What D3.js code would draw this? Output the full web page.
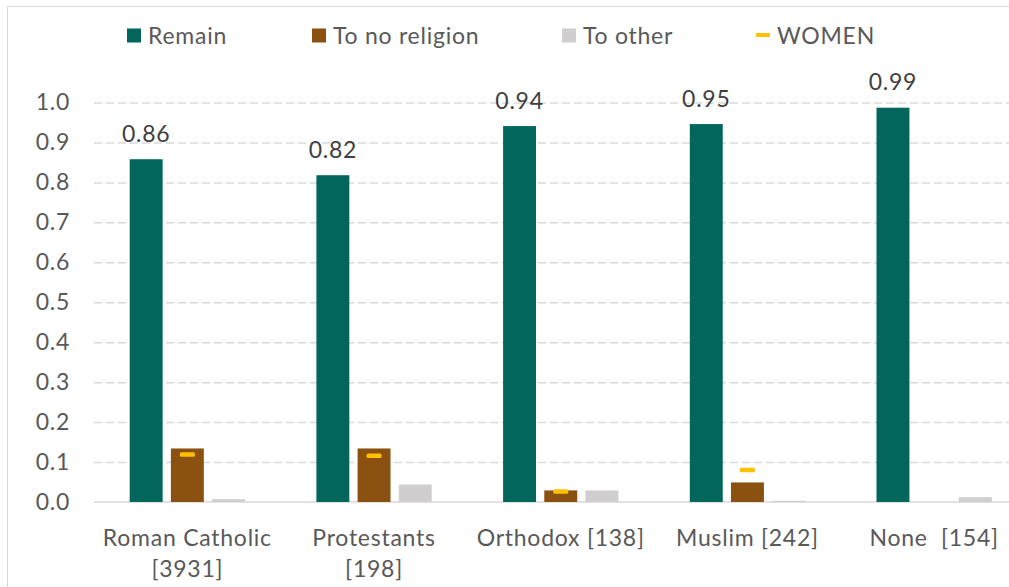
<!DOCTYPE html>
<html><head><meta charset="utf-8">
<script src="https://cdn.jsdelivr.net/npm/d3@7"></script>
<style>
html,body{margin:0;padding:0;background:#fff;}
svg{display:block;font-family:Lato, "Open Sans", sans-serif;}
</style></head>
<body>
<svg id="chart" width="1009" height="587"></svg>
<script>
// ---- data ----
const categories = ["Roman Catholic [3931]", "Protestants [198]", "Orthodox [138]", "Muslim [242]", "None  [154]"];
const categoryLines = [["Roman Catholic", "[3931]"], ["Protestants", "[198]"], ["Orthodox [138]"], ["Muslim [242]"], ["None  [154]"]];
const seriesNames = ["Remain", "To no religion", "To other"];
const remain = [0.858, 0.818, 0.941, 0.946, 0.987];
const toNoReligion = [0.134, 0.134, 0.029, 0.049, 0];
const toOther = [0.007, 0.044, 0.029, 0.003, 0.012];
const women = [0.119, 0.116, 0.026, 0.080, null];
const yTicks = [0, 0.1, 0.2, 0.3, 0.4, 0.5, 0.6, 0.7, 0.8, 0.9, 1.0];

// ---- styles ----
const colors = {"Remain": "#02665D", "To no religion": "#8B5110", "To other": "#D0CECE"};
const womenColor = "#FFC000";
const textColor = "#595959";
const LS = "0.75px";

const svg = d3.select("#chart");
const W = 1009, H = 587;

// chart frame
svg.append("path").attr("d", `M7.5,${H} V6.5 H${W}`).attr("fill", "none").attr("stroke", "#D9D9D9").attr("stroke-width", 1);

const plot = {left: 94, right: 1027.5, top: 102.5, bottom: 502};

const y = d3.scaleLinear().domain([0, 1]).range([plot.bottom, plot.top]);
const x0 = d3.scaleBand().domain(categories).range([plot.left, plot.right]).paddingInner(0.3824).paddingOuter(0.1912);
const x1 = d3.scaleBand().domain(seriesNames).range([0, x0.bandwidth()]).paddingInner(0.2).paddingOuter(0);

svg.append("defs").append("clipPath").attr("id", "clipR").append("rect").attr("x", 0).attr("y", 0).attr("width", W).attr("height", H);
const g = svg.append("g").attr("clip-path", "url(#clipR)");

// gridlines
const grid = d3.axisLeft(y).tickValues(yTicks.filter(v => v > 0)).tickSize(-(plot.right - plot.left)).tickFormat("");
const gg = g.append("g").attr("transform", `translate(${plot.left},0)`).call(grid);
gg.select(".domain").remove();
gg.selectAll(".tick line").attr("stroke", "#D9D9D9").attr("stroke-width", 1.5).attr("stroke-dasharray", "8,4");

// baseline
g.append("line").attr("x1", plot.left).attr("x2", plot.right).attr("y1", y(0)).attr("y2", y(0)).attr("stroke", "#D9D9D9").attr("stroke-width", 1.5);

// y axis labels
const ya = svg.append("g").attr("transform", `translate(${plot.left},0)`).call(d3.axisLeft(y).tickValues(yTicks).tickFormat(d3.format(".1f")).tickSize(0).tickPadding(24));
ya.select(".domain").remove();
ya.selectAll("text").attr("fill", textColor).style("font-size", "23px").style("font-family", "Lato").style("letter-spacing", LS);

// bars
const rows = categories.map((c, i) => ({cat: c, values: [remain[i], toNoReligion[i], toOther[i]]}));
const groups = g.selectAll(".grp").data(rows).join("g").attr("class", "grp").attr("transform", d => `translate(${x0(d.cat)},0)`);
groups.selectAll("rect").data(d => d.values.map((v, k) => ({s: seriesNames[k], v}))).join("rect")
  .attr("x", d => x1(d.s)).attr("width", x1.bandwidth())
  .attr("y", d => y(d.v)).attr("height", d => y(0) - y(d.v))
  .attr("fill", d => colors[d.s]);

// data labels for Remain
groups.append("text").attr("x", x1("Remain") + x1.bandwidth() / 2).attr("y", (d) => y(d.values[0]) - 17.5)
  .attr("text-anchor", "middle").attr("fill", "#404040").style("font-size", "23px").style("letter-spacing", LS)
  .text(d => d3.format(".2f")(d.values[0]));

// women markers
categories.forEach((c, i) => {
  if (women[i] == null) return;
  g.append("rect").attr("x", x0(c) + x1("To no religion") + x1.bandwidth() / 2 - 7.5).attr("y", y(women[i]) - 2.25)
    .attr("width", 15).attr("height", 4.5).attr("rx", 1.5).attr("fill", womenColor);
});

// x labels
categories.forEach((c, i) => {
  const t = svg.append("text").attr("x", x0(c) + x0.bandwidth() / 2).attr("y", 546)
    .attr("text-anchor", "middle").attr("fill", textColor).style("font-size", "23px").style("letter-spacing", LS)
    .attr("xml:space", "preserve").style("white-space", "pre");
  categoryLines[i].forEach((ln, k) => {
    t.append("tspan").attr("x", x0(c) + x0.bandwidth() / 2).attr("dy", k === 0 ? 0 : 31).text(ln);
  });
});

// legend
const legend = [
  {name: "Remain", x: 127, type: "sq"},
  {name: "To no religion", x: 312, type: "sq"},
  {name: "To other", x: 562, type: "sq"},
  {name: "WOMEN", x: 756, type: "dash"}
];
legend.forEach(l => {
  if (l.type === "sq") {
    svg.append("rect").attr("x", l.x).attr("y", 28.5).attr("width", 14).attr("height", 14).attr("fill", colors[l.name]);
  } else {
    svg.append("rect").attr("x", l.x).attr("y", 33).attr("width", 14).attr("height", 4).attr("rx", 1).attr("fill", womenColor);
  }
  svg.append("text").attr("x", l.x + 21).attr("y", 43.5).attr("fill", textColor).style("font-size", "23px").style("letter-spacing", LS).text(l.name);
});
</script>
</body></html>
